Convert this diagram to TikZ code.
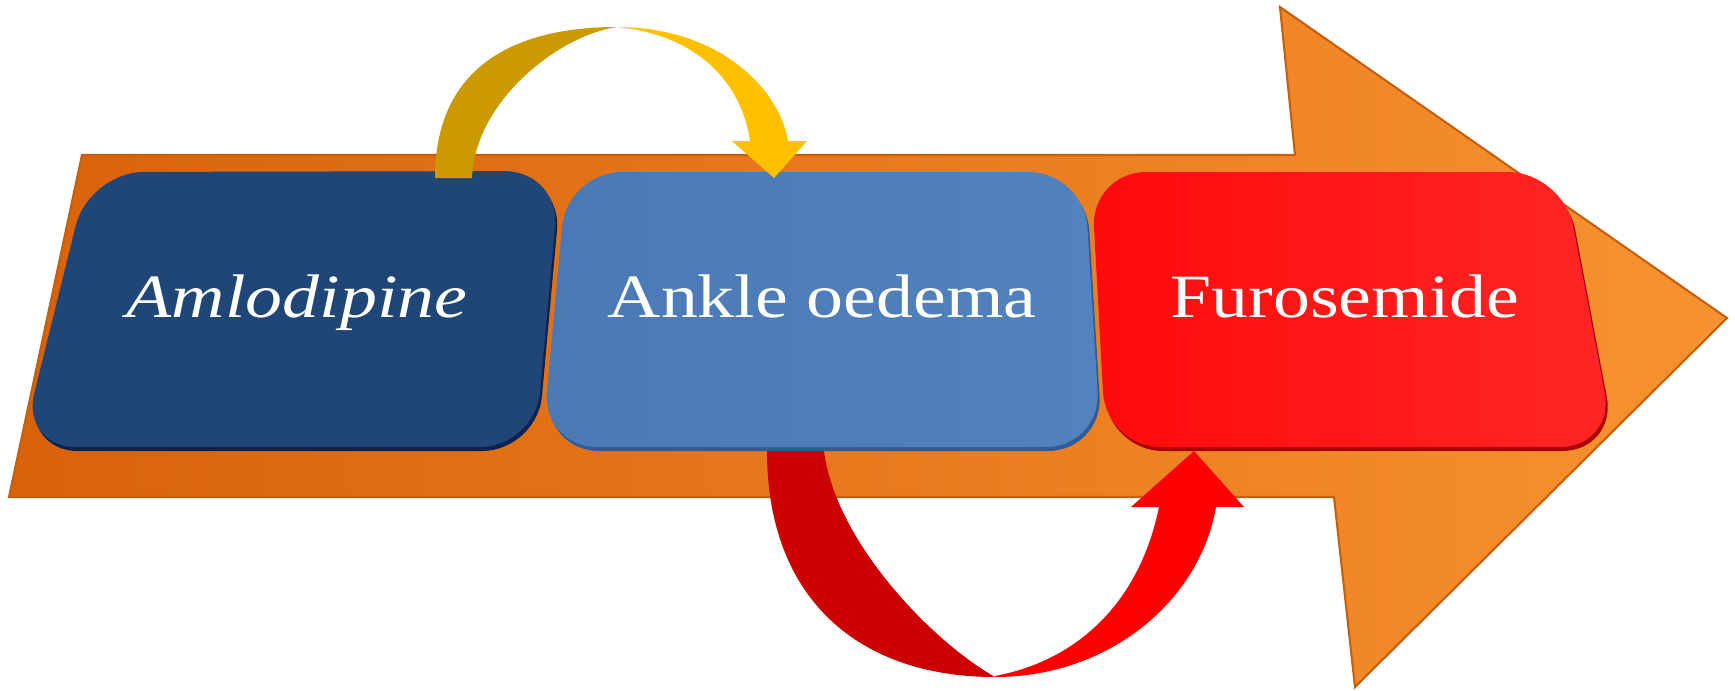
\documentclass[tikz,border=0pt]{standalone}
\usepackage{fontspec}
\setmainfont[FakeStretch=1.2]{Liberation Serif}
\usepackage{xcolor}
\usepackage{tikz}
\usetikzlibrary{calc, positioning}

\definecolor{camtrai}{HTML}{D8620A}
\definecolor{camphai}{HTML}{F8922F}
\definecolor{camvien}{HTML}{C4600E}
\definecolor{xanhdam}{HTML}{1F4677}
\definecolor{xanhdamvien}{HTML}{0A2452}
\definecolor{xanhnhat}{HTML}{4A79B5}
\definecolor{xanhnhat2}{HTML}{5283BF}
\definecolor{xanhnhatvien}{HTML}{2F5C98}
\definecolor{dotrai}{HTML}{FF0A0A}
\definecolor{dophai}{HTML}{FF2626}
\definecolor{dovien}{HTML}{A80000}
\definecolor{vangdam}{HTML}{CC9900}
\definecolor{vang}{HTML}{FFC000}
\definecolor{dodam}{HTML}{CC0000}
\definecolor{dotuoi}{HTML}{FF0000}

\begin{document}
\begin{tikzpicture}[x=0.01cm, y=-0.01cm,
    hop/.style={rounded corners=0.55cm},
    bong/.style={hop, shift={(2,4)}},
    nhan/.style={text=white, anchor=base, font=\fontsize{17.5}{20}\selectfont}]
    \useasboundingbox (0,0) rectangle (1735,690);

    % Mũi tên lớn
    \shadedraw[left color=camtrai, right color=camphai, draw=camvien, line width=0.6pt]
        (9,497) -- (82,155) -- (1295,155) -- (1280,7) -- (1727,318)
        -- (1355,687) -- (1334,497) -- cycle;

    % Các hộp (bóng phía dưới)
    \fill[bong, fill=xanhdamvien]
        (89,172) -- (560,171) -- (535,447) -- (21,447) -- cycle;
    \fill[bong, fill=xanhnhatvien]
        (567,172) -- (1084,172) -- (1101,447) -- (542,447) -- cycle;
    \fill[bong, fill=dovien]
        (1091,172) -- (1563,172) -- (1615,447) -- (1106,447) -- cycle;

    % Các hộp
    \fill[hop, fill=xanhdam]
        (89,172) -- (560,171) -- (535,447) -- (21,447) -- cycle;
    \shade[hop, left color=xanhnhat, right color=xanhnhat2]
        (567,172) -- (1084,172) -- (1101,447) -- (542,447) -- cycle;
    \shade[hop, left color=dotrai, right color=dophai]
        (1091,172) -- (1563,172) -- (1615,447) -- (1106,447) -- cycle;

    % Chữ
    \node[nhan] (aml) at (297,317) {\textit{Amlodipine}};
    \node[nhan] (ank) at (822,317) {Ankle oedema};
    \node[nhan] (fur) at (1345,317) {Furosemide};

    % Mũi tên cong phía trên
    \fill[vangdam] (435,178) .. controls (435,70) and (510,27) .. (617,27)
        .. controls (560,35) and (475,100) .. (472,178) -- cycle;
    \fill[vang] (617,27) .. controls (720,27) and (780,90) .. (788,141)
        -- (807,141) -- (774,178) -- (732,141) -- (750,141)
        .. controls (742,85) and (700,35) .. (617,27) -- cycle;

    % Mũi tên cong phía dưới
    \fill[dodam] (767,451) .. controls (767,600) and (860,677) .. (995,677)
        .. controls (930,640) and (835,540) .. (824,451) -- cycle;
    \fill[dotuoi] (995,677) .. controls (1110,677) and (1200,600) .. (1216,507)
        -- (1244,507) -- (1194,451) -- (1131,507) -- (1159,507)
        .. controls (1140,600) and (1080,660) .. (995,676) -- cycle;
\end{tikzpicture}
\end{document}
